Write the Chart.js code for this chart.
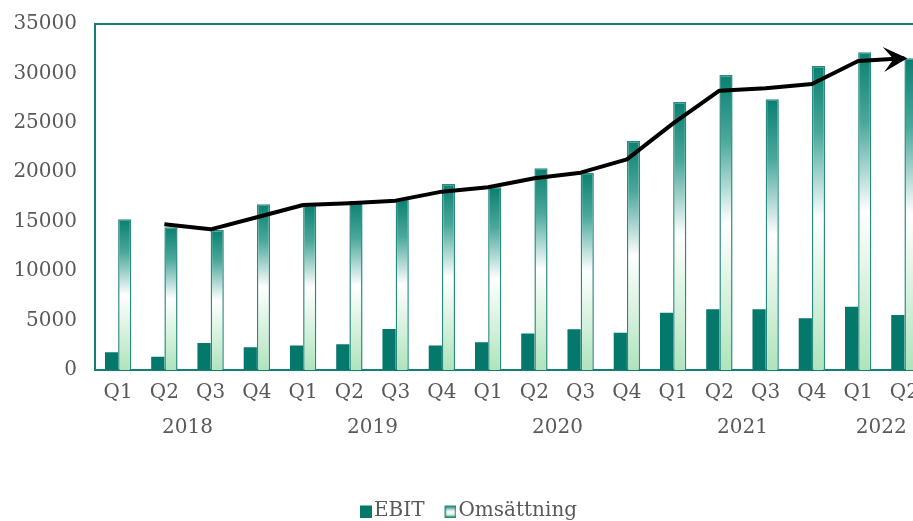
<!DOCTYPE html>
<html>
<head>
<meta charset="utf-8">
<script src="https://cdn.jsdelivr.net/npm/chart.js@4"></script>
<style>
  html, body { margin: 0; padding: 0; background: #fff; overflow: hidden; }
  #wrap { width: 930px; height: 531px; position: relative; }
</style>
</head>
<body>
<div id="wrap"><canvas id="myChart"></canvas></div>
<script>
const quarters = ["Q1", "Q2", "Q3", "Q4", "Q1", "Q2", "Q3", "Q4", "Q1", "Q2", "Q3", "Q4", "Q1", "Q2", "Q3", "Q4", "Q1", "Q2"];
const years = ["2018", "2019", "2020", "2021", "2022"];
const yearStart = [0, 4, 8, 12, 16];
const yearEnd = [3, 7, 11, 15, 17];
const ebit = [1790, 1350, 2730, 2290, 2490, 2600, 4150, 2490, 2800, 3680, 4110, 3780, 5800, 6140, 6140, 5230, 6410, 5560];
const omsattning = [15240, 14430, 14150, 16760, 16690, 17100, 17300, 18810, 18480, 20400, 19960, 23170, 27110, 29840, 27380, 30750, 32140, 31530];
const trend = [null, 14740, 14230, 15450, 16690, 16860, 17130, 18040, 18480, 19390, 19960, 21310, 24950, 28260, 28490, 28930, 31260, 31530];
const yTicks = [0, 5000, 10000, 15000, 20000, 25000, 30000, 35000];

const teal = "#03786b";
const frame = "#138075";
const textCol = "#595959";
const font = "DejaVu Serif";

// gradient for each Omsättning bar, top to base
function omsFill(context) {
  const chart = context.chart;
  if (!chart.chartArea || context.type !== "data") return "#0b8272";
  const y = chart.scales.y;
  const top = y.getPixelForValue(context.raw);
  const bottom = y.getPixelForValue(0);
  const g = chart.ctx.createLinearGradient(0, top, 0, bottom);
  g.addColorStop(0, "#0a8071");
  g.addColorStop(0.22, "#4aa89b");
  g.addColorStop(0.5, "#ffffff");
  g.addColorStop(1, "#aee4bc");
  return g;
}

// legend markers, box drawn at the right edge so text sits close
function legendImg(kind) {
  const c = document.createElement("canvas");
  c.width = 28; c.height = 13;
  const x = c.getContext("2d");
  if (kind === "solid") {
    x.fillStyle = teal;
    x.fillRect(16, 1, 12, 12);
  } else {
    const g = x.createLinearGradient(0, 1, 0, 13);
    g.addColorStop(0, "#0a8071");
    g.addColorStop(0.5, "#ffffff");
    g.addColorStop(1, "#aee4bc");
    x.fillStyle = g;
    x.fillRect(16, 1, 12, 12);
    x.strokeStyle = "#2a8a7e";
    x.lineWidth = 1.5;
    x.strokeRect(16.75, 1.75, 10.5, 10.5);
  }
  return c;
}
const ebitImg = legendImg("solid");
const omsImg = legendImg("grad");

const framePlugin = {
  id: "frame",
  beforeDatasetsDraw(chart) {
    const { ctx, chartArea: a } = chart;
    ctx.save();
    ctx.strokeStyle = frame;
    ctx.lineWidth = 2;
    ctx.strokeRect(a.left, a.top, a.right - a.left, a.bottom - a.top);
    ctx.restore();
  }
};

const yearPlugin = {
  id: "years",
  afterDraw(chart) {
    const { ctx } = chart;
    const x = chart.scales.x;
    ctx.save();
    ctx.font = "20px '" + font + "'";
    ctx.fillStyle = textCol;
    ctx.textAlign = "center";
    ctx.textBaseline = "middle";
    years.forEach((yr, i) => {
      const cx = (x.getPixelForValue(yearStart[i]) + x.getPixelForValue(yearEnd[i])) / 2;
      ctx.fillText(yr, cx, 428);
    });
    ctx.restore();
  }
};

const arrowPlugin = {
  id: "arrow",
  afterDatasetsDraw(chart) {
    const meta = chart.getDatasetMeta(2);
    const pts = meta.data;
    const p1 = pts[pts.length - 2], p2 = pts[pts.length - 1];
    const ang = Math.atan2(p2.y - p1.y, p2.x - p1.x);
    const ctx = chart.ctx;
    const L = 24, W = 12.5;
    ctx.save();
    ctx.translate(p2.x + 3 * Math.cos(ang), p2.y + 3 * Math.sin(ang));
    ctx.rotate(ang);
    ctx.fillStyle = "#000";
    ctx.beginPath();
    ctx.moveTo(0, 0);
    ctx.lineTo(-L, -W);
    ctx.lineTo(-L * 0.58, 0);
    ctx.lineTo(-L, W);
    ctx.closePath();
    ctx.fill();
    ctx.restore();
  }
};

const ctx = document.getElementById("myChart");

new Chart(ctx, {
  data: {
    labels: quarters,
    datasets: [
      {
        type: "bar",
        label: "EBIT",
        data: ebit,
        backgroundColor: teal,
        borderWidth: 0,
        order: 1
      },
      {
        type: "bar",
        label: "Omsättning",
        data: omsattning,
        backgroundColor: omsFill,
        borderColor: "#2a8a7e",
        borderWidth: 1.5,
        order: 1
      },
      {
        type: "line",
        label: "trend",
        data: trend,
        borderColor: "#000",
        borderWidth: 4,
        pointRadius: 0,
        tension: 0,
        borderJoinStyle: "round",
        order: 0
      }
    ]
  },
  options: {
    responsive: true,
    maintainAspectRatio: false,
    animation: false,
    layout: { padding: { top: 24, left: 0, right: 1, bottom: 0 } },
    datasets: {
      bar: { categoryPercentage: 0.57, barPercentage: 1 }
    },
    plugins: {
      tooltip: { enabled: false },
      legend: {
        position: "bottom",
        labels: {
          usePointStyle: true,
          pointStyleWidth: 12,
          boxHeight: 12,
          padding: 12,
          color: textCol,
          font: { family: font, size: 20 },
          generateLabels(chart) {
            return [
              { text: "EBIT", pointStyle: ebitImg, fillStyle: teal, strokeStyle: teal, lineWidth: 0, datasetIndex: 0, fontColor: textCol },
              { text: "Omsättning", pointStyle: omsImg, fillStyle: teal, strokeStyle: teal, lineWidth: 0, datasetIndex: 1, fontColor: textCol }
            ];
          }
        }
      }
    },
    scales: {
      x: {
        grid: { display: false, drawTicks: false },
        border: { display: false },
        ticks: { color: textCol, font: { family: font, size: 20 }, padding: 11, maxRotation: 0, autoSkip: false },
        afterFit(scale) { scale.height = 119; }
      },
      y: {
        min: 0,
        max: 35000,
        grid: { display: false, drawTicks: false },
        border: { display: false },
        afterBuildTicks(scale) { scale.ticks = yTicks.map(v => ({ value: v })); },
        ticks: { color: textCol, font: { family: font, size: 20 }, padding: 18, callback: (v) => String(v) },
        afterFit(scale) {
          scale.width = 95;
          scale.paddingTop = 0;
          scale.paddingBottom = 0;
        }
      }
    }
  },
  plugins: [framePlugin, yearPlugin, arrowPlugin]
});
</script>
</body>
</html>
